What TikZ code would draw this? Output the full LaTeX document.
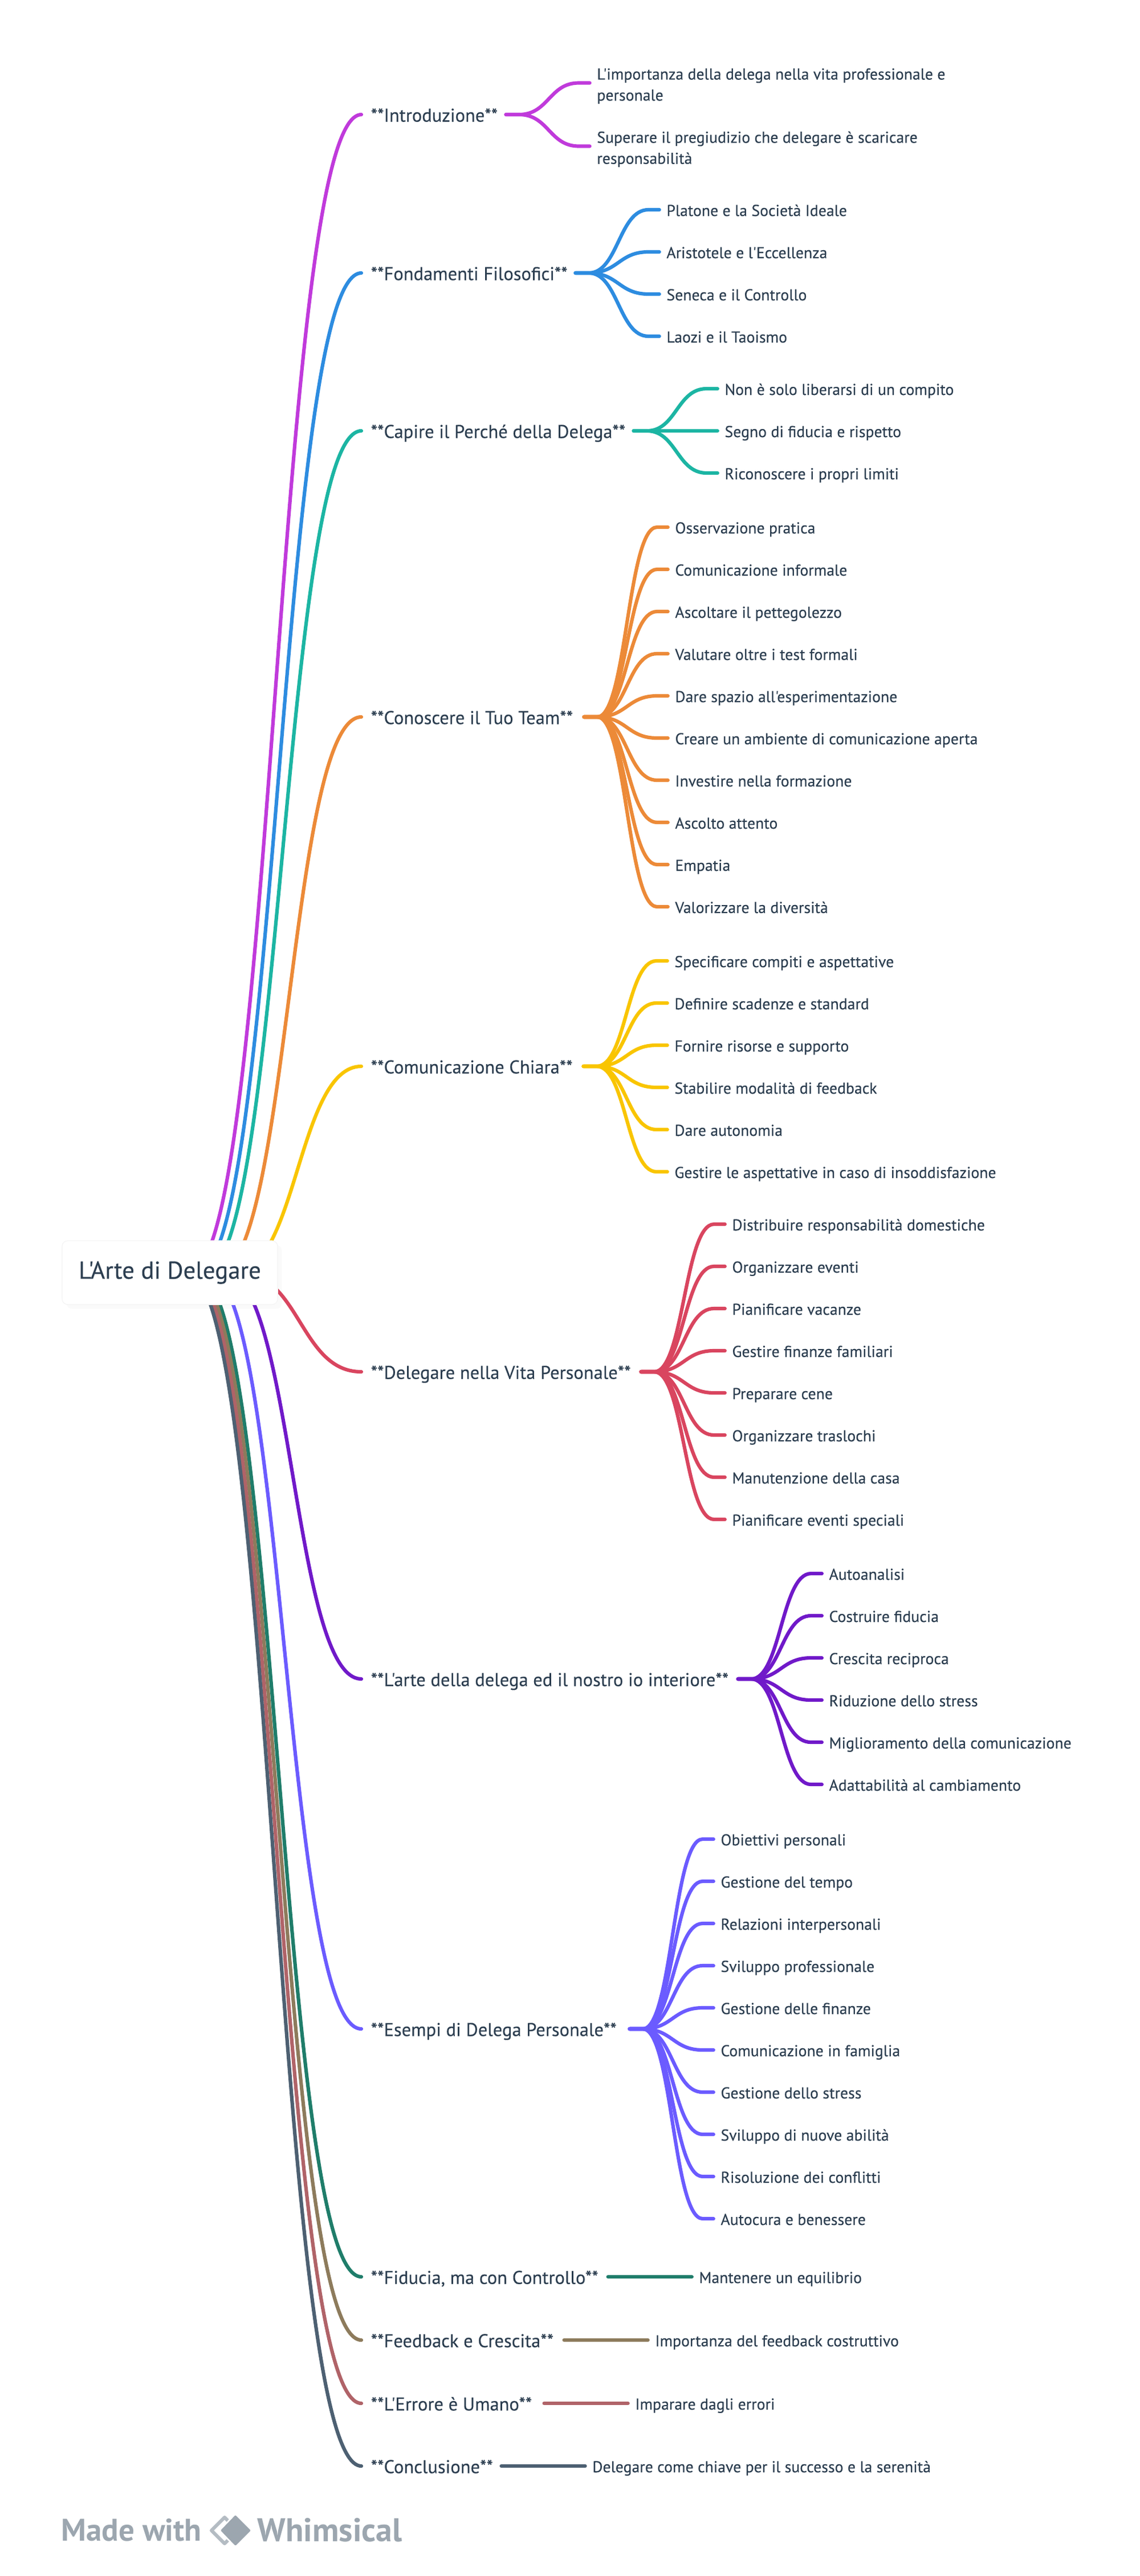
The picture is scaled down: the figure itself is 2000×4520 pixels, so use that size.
\documentclass[tikz,border=0pt]{standalone}
\usepackage{fontspec}
\newfontfamily\labelfont[FakeBold=0.25]{PT Sans}
\newfontfamily\markfont{PT Sans}
\usetikzlibrary{positioning,shadows}

\definecolor{inktext}{HTML}{2C3E50}
\definecolor{greymark}{HTML}{9CA6AF}
\definecolor{greyline}{HTML}{B4BCC3}
\definecolor{cintro}{HTML}{C03ADB}
\definecolor{cfond}{HTML}{2D8CE0}
\definecolor{ccapire}{HTML}{1CB5A3}
\definecolor{cteam}{HTML}{EC8A38}
\definecolor{ccomm}{HTML}{F9C500}
\definecolor{cvita}{HTML}{D9455F}
\definecolor{carte}{HTML}{7019C9}
\definecolor{cesempi}{HTML}{6B5BFF}
\definecolor{cfidu}{HTML}{1F7D6A}
\definecolor{cfeed}{HTML}{8D7B5C}
\definecolor{cerr}{HTML}{B06368}
\definecolor{cconcl}{HTML}{4D6072}

\tikzset{
	rootbox/.style={draw=black!4, fill=white, rounded corners=.1cm, minimum width=3.78cm, minimum height=1.12cm, drop shadow={opacity=.04}, text=inktext, font=\labelfont\fontsize{12.2}{14}\selectfont},
	branchlabel/.style={anchor=west, inner xsep=.16cm, inner ysep=0pt, text=inktext, text height=.30cm, text depth=.05cm, font=\labelfont\fontsize{9.25}{11}\selectfont},
	leaflabel/.style={inner xsep=.12cm, inner ysep=0pt, align=left, text=inktext, text depth=.06cm, font=\labelfont\fontsize{7.9}{10.5}\selectfont},
	link/.style={line width=.062cm, line cap=round},
	footer/.style={anchor=west, inner sep=0pt, text=greymark, font=\markfont\bfseries\fontsize{15.6}{16}\selectfont}
}

\begin{document}
\begin{tikzpicture}[x=.01cm,y=-.01cm]
\useasboundingbox (0,0) rectangle (2000,4520);

\foreach \nm/\lbl/\ypos/\col/\wid/\num/\leaves in {
	intro/{**Introduzione**}/201/cintro/2.20/2/{{L'importanza della delega nella vita professionale e\\personale},{Superare il pregiudizio che delegare è scaricare\\responsabilità}},
	fond/{**Fondamenti Filosofici**}/479/cfond/3.42/4/{Platone e la Società Ideale,Aristotele e l'Eccellenza,Seneca e il Controllo,Laozi e il Taoismo},
	capire/{**Capire il Perché della Delega**}/756/ccapire/4.44/3/{Non è solo liberarsi di un compito,Segno di fiducia e rispetto,Riconoscere i propri limiti},
	team/{**Conoscere il Tuo Team**}/1258/cteam/3.57/10/{Osservazione pratica,Comunicazione informale,Ascoltare il pettegolezzo,Valutare oltre i test formali,Dare spazio all'esperimentazione,Creare un ambiente di comunicazione aperta,Investire nella formazione,Ascolto attento,Empatia,Valorizzare la diversità},
	comm/{**Comunicazione Chiara**}/1871/ccomm/3.56/6/{Specificare compiti e aspettative,Definire scadenze e standard,Fornire risorse e supporto,Stabilire modalità di feedback,Dare autonomia,Gestire le aspettative in caso di insoddisfazione},
	vita/{**Delegare nella Vita Personale**}/2407/cvita/4.57/8/{Distribuire responsabilità domestiche,Organizzare eventi,Pianificare vacanze,Gestire finanze familiari,Preparare cene,Organizzare traslochi,Manutenzione della casa,Pianificare eventi speciali},
	arte/{**L'arte della delega ed il nostro io interiore**}/2946/carte/6.27/6/{Autoanalisi,Costruire fiducia,Crescita reciproca,Riduzione dello stress,Miglioramento della comunicazione,Adattabilità al cambiamento},
	esempi/{**Esempi di Delega Personale**}/3560/cesempi/4.37/10/{Obiettivi personali,Gestione del tempo,Relazioni interpersonali,Sviluppo professionale,Gestione delle finanze,Comunicazione in famiglia,Gestione dello stress,Sviluppo di nuove abilità,Risoluzione dei conflitti,Autocura e benessere},
	fidu/{**Fiducia, ma con Controllo**}/3995/cfidu/3.99/1/{Mantenere un equilibrio},
	feed/{**Feedback e Crescita**}/4106/cfeed/3.22/1/{Importanza del feedback costruttivo},
	err/{**L'Errore è Umano**}/4217/cerr/2.87/1/{Imparare dagli errori},
	concl/{**Conclusione**}/4327/cconcl/2.12/1/{Delegare come chiave per il successo e la serenità}%
} {
	\pgfmathsetmacro{\hub}{427-0.047*abs(\ypos-2233)}
	\pgfmathsetmacro{\ctrlx}{(\hub+634)/2}
	\pgfmathsetmacro{\hgt}{\num==2 ? .68 : .28}
	\node[branchlabel] (\nm) at (634,\ypos) {\makebox[\wid cm][l]{\lbl}};
	\coordinate (\nm-hub) at (\hub,2233);
	\draw[link,\col] (\nm-hub) .. controls (\ctrlx,2233) and (\ctrlx,\ypos) .. (\nm.west);
	\foreach \lf [count=\i] in \leaves {
		\pgfmathsetmacro{\off}{(\num==2 ? 111 : 74)*(\i-(\num+1)/2)}
		\node[leaflabel, text height=\hgt cm, right=1.47cm of \nm, yshift=-\off*.01cm] (\nm-\i) {\lf};
		\draw[link,\col] (\nm.east) -- ++(23,0) .. controls +(52,0) and +(-52,0) .. ++(105,\off) -- (\nm-\i.west);
	}
}

\node[rootbox] (root) at (298,2233) {L'Arte di Delegare};

% footer mark
\node[footer] (madewith) at (107,4439) {Made with};
\draw[greyline, line width=.06cm, line join=round] (394,4417) -- (371,4440) -- (394,4463) -- (417,4440) -- cycle;
\fill[white] (413,4409) -- (383,4440) -- (413,4471) -- (443,4440) -- cycle;
\fill[greymark, rounded corners=.02cm] (413,4413) -- (387,4440) -- (413,4467) -- (440,4440) -- cycle;
\node[footer, font=\markfont\bfseries\fontsize{16.4}{16}\selectfont] (whimsical) at (451,4439) {Whimsical};
\end{tikzpicture}
\end{document}
